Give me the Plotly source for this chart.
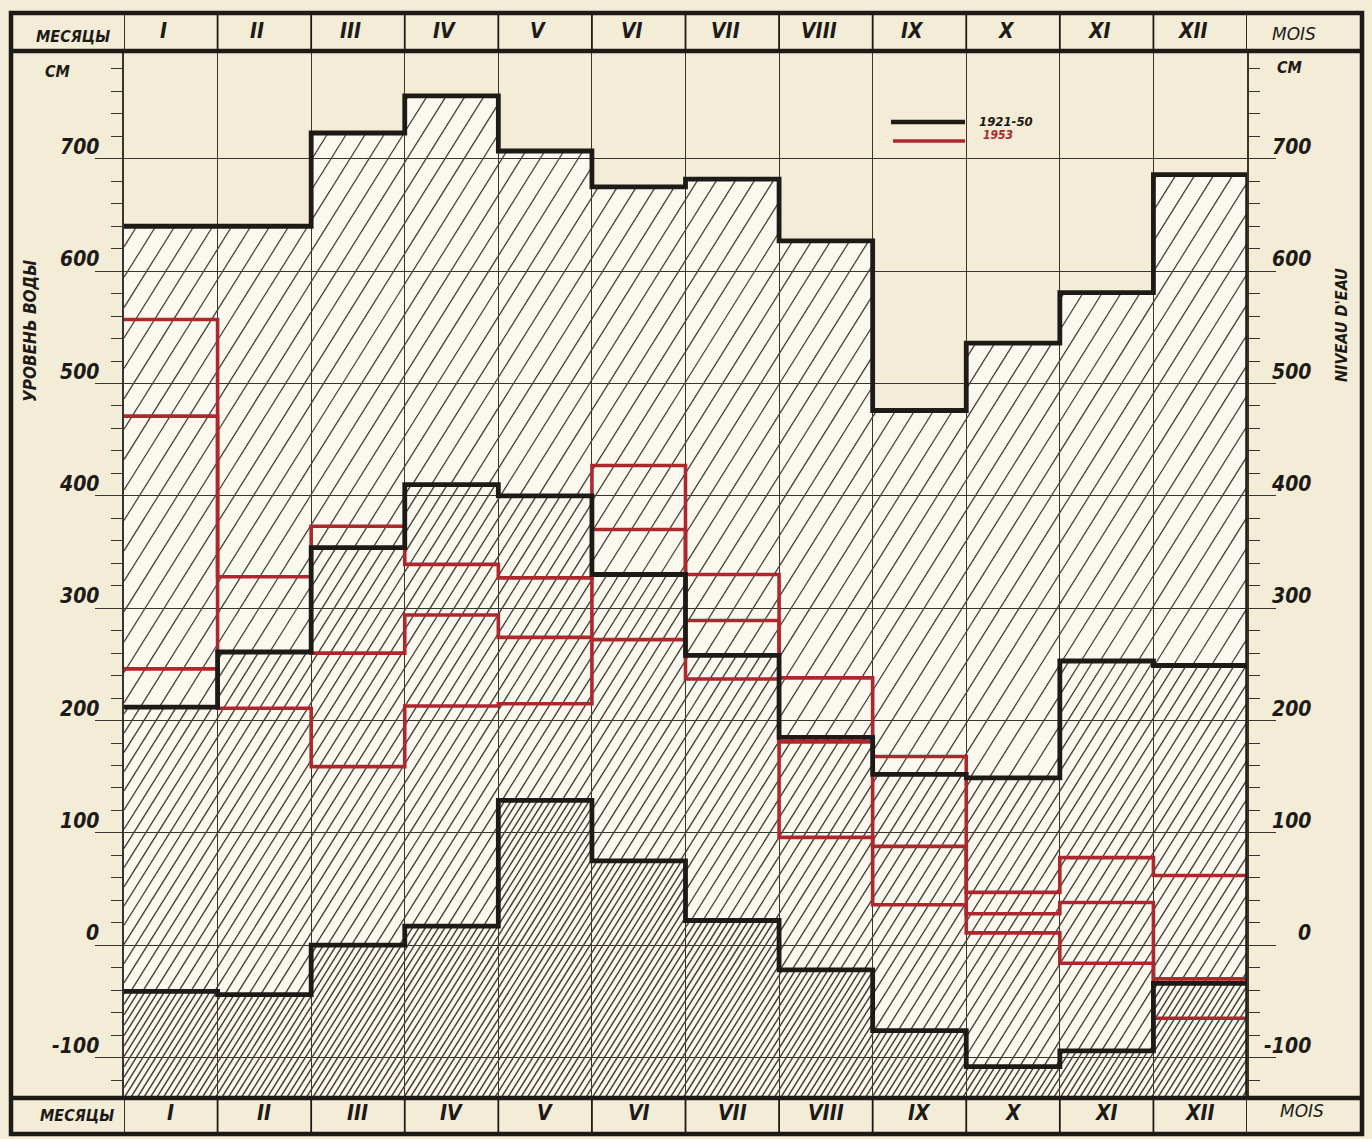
import math
import plotly.graph_objects as go

# Monthly water levels, cm
MONTHS = ["I", "II", "III", "IV", "V", "VI", "VII", "VIII", "IX", "X", "XI", "XII"]

# 1921-50: highest, mean and lowest monthly level
LEVEL_MAX_1921_50 = [640, 640, 723, 756, 707, 675, 682, 627, 476, 536, 581, 686]
LEVEL_MEAN_1921_50 = [212, 261, 354, 410, 400, 330, 258, 185, 152, 149, 253, 249]
LEVEL_MIN_1921_50 = [-41, -44, 0, 17, 129, 75, 22, -22, -76, -108, -94, -34]

# 1953: highest, mean and lowest monthly level
LEVEL_MAX_1953 = [557, 328, 373, 339, 327, 427, 330, 238, 168, 47, 78, 62]
LEVEL_MEAN_1953 = [471, 261, 260, 294, 274, 370, 289, 181, 88, 28, 38, -30]
LEVEL_MIN_1953 = [246, 211, 159, 213, 215, 272, 237, 96, 36, 11, -16, -65]

TICK_VALUES = [-100, 0, 100, 200, 300, 400, 500, 600, 700]
TICK_LABELS = [str(v) for v in TICK_VALUES]

LEGEND_LABELS = ["1921-50", "1953"]

# ---- page geometry ----
W, H = 1372, 1139
M_L, M_R, M_T, M_B = 124, 125, 51, 41
PLOT_W = W - M_L - M_R
PLOT_H = H - M_T - M_B
Y_MIN, Y_MAX = -136, 796
N = len(MONTHS)

PAPER = "#f3ecd6"
CREAM = "#fbf8ef"
INK = "#1d1a17"
GRID = "#3a342e"
HATCH = "#4a423a"
RED = "#ad282c"

FONT = "DejaVu Sans Condensed, DejaVu Sans, sans-serif"
FONT_WIDE = "DejaVu Sans, sans-serif"


def px2x(px):
    return (px - M_L) / PLOT_W


def py2y(py):
    return (H - M_B - py) / PLOT_H


def step_xy(vals):
    return list(range(len(vals) + 1)), list(vals) + [vals[-1]]


def hatch(lower, upper, spacing, slope=1.6):
    """Diagonal '/' hatch lines clipped to the monthly bands lower..upper."""
    sx = PLOT_W / N
    sy = PLOT_H / (Y_MAX - Y_MIN)
    xs, ys = [], []
    for i, (lo, hi) in enumerate(zip(lower, upper)):
        if hi <= lo:
            continue
        u0, u1 = i * sx, (i + 1) * sx
        w0, w1 = (lo - Y_MIN) * sy, (hi - Y_MIN) * sy
        k0 = math.floor((u0 - w1 / slope) / spacing) - 1
        k1 = math.ceil((u1 - w0 / slope) / spacing) + 1
        for k in range(k0, k1 + 1):
            off = k * spacing
            a = max(u0, off + w0 / slope)
            b = min(u1, off + w1 / slope)
            if b - a > 0.3:
                xs += [a / sx, b / sx, None]
                ys += [Y_MIN + slope * (a - off) / sy, Y_MIN + slope * (b - off) / sy, None]
    return xs, ys


fig = go.Figure()

bottom = [Y_MIN] * N
bands = [
    (LEVEL_MEAN_1921_50, LEVEL_MAX_1921_50, 19, 1.3),
    (LEVEL_MIN_1921_50, LEVEL_MEAN_1921_50, 12, 1.4),
    (bottom, LEVEL_MIN_1921_50, 6.5, 1.5),
]
for lo, hi, sp, lw in bands:
    hx, hy = hatch(lo, hi, sp)
    fig.add_trace(go.Scatter(x=hx, y=hy, mode="lines", hoverinfo="skip",
                             line=dict(color=HATCH, width=lw), showlegend=False))

# 1953 levels (red), drawn beneath the long-term lines
for vals in (LEVEL_MAX_1953, LEVEL_MEAN_1953, LEVEL_MIN_1953):
    sx_, sy_ = step_xy(vals)
    fig.add_trace(go.Scatter(x=sx_, y=sy_, mode="lines", line_shape="hv",
                             line=dict(color=RED, width=3.6), showlegend=False))

# 1921-50 levels (black)
for vals in (LEVEL_MAX_1921_50, LEVEL_MEAN_1921_50, LEVEL_MIN_1921_50):
    sx_, sy_ = step_xy(vals)
    fig.add_trace(go.Scatter(x=sx_, y=sy_, mode="lines", line_shape="hv",
                             line=dict(color=INK, width=4.8), showlegend=False))

# right edge of the hatched field
fig.add_trace(go.Scatter(x=[N, N], y=[LEVEL_MAX_1921_50[-1], Y_MIN], mode="lines",
                         line=dict(color=INK, width=3.5), showlegend=False))

shapes = []
# light paper under the hatched field
path = f"M 0,{Y_MIN} L 0,{LEVEL_MAX_1921_50[0]}"
for i, v in enumerate(LEVEL_MAX_1921_50):
    path += f" L {i},{v} L {i + 1},{v}"
path += f" L {N},{Y_MIN} Z"
shapes.append(dict(type="path", path=path, xref="x", yref="y", layer="below",
                   fillcolor=CREAM, line=dict(width=0)))

# frame, header rows and their column separators
top_b, bot_b = py2y(13), py2y(1134)
left_b, right_b = px2x(11), px2x(1362)
shapes.append(dict(type="rect", xref="paper", yref="paper", x0=left_b, x1=right_b,
                   y0=bot_b, y1=top_b, line=dict(color=INK, width=4.5)))
for yy in (0, 1):
    shapes.append(dict(type="line", xref="paper", yref="paper", x0=left_b, x1=right_b,
                       y0=yy, y1=yy, line=dict(color=INK, width=4.5)))
for i in range(N + 1):
    for y0, y1 in ((1, top_b), (bot_b, 0)):
        shapes.append(dict(type="line", xref="x", yref="paper", x0=i, x1=i,
                           y0=y0, y1=y1, line=dict(color=INK, width=1.8)))

# legend keys
shapes.append(dict(type="line", xref="paper", yref="paper", x0=px2x(891), x1=px2x(965),
                   y0=py2y(122), y1=py2y(122), line=dict(color=INK, width=4.5)))
shapes.append(dict(type="line", xref="paper", yref="paper", x0=px2x(893), x1=px2x(965),
                   y0=py2y(141), y1=py2y(141), line=dict(color=RED, width=3.5)))

ann = []


def text(s, x, y, size, xref="paper", yref="paper", color=INK, weight="bold",
         style="italic", xanchor="center", yanchor="middle", angle=0, xshift=0,
         yshift=0, family=FONT):
    ann.append(dict(text=s, x=x, y=y, xref=xref, yref=yref, showarrow=False,
                    xanchor=xanchor, yanchor=yanchor, textangle=angle,
                    xshift=xshift, yshift=yshift,
                    font=dict(family=family, size=size, color=color, weight=weight,
                              style=style)))


# header rows
for i, m in enumerate(MONTHS):
    text(m, i + 0.5, py2y(31), 21, xref="x", xshift=-7)
    text(m, i + 0.5, py2y(1113), 21, xref="x")
text("МЕСЯЦЫ", px2x(73), py2y(37), 16)
text("МЕСЯЦЫ", px2x(77), py2y(1115), 16)
text("MOIS", px2x(1294), py2y(34), 17, weight="normal", family=FONT_WIDE)
text("MOIS", px2x(1302), py2y(1111), 17, weight="normal", family=FONT_WIDE)

# units and axis titles
text("СМ", px2x(58), py2y(72), 16)
text("CM", px2x(1290), py2y(67), 16)
text("УРОВЕНЬ ВОДЫ", px2x(30), py2y(331), 17, angle=-90)
text("NIVEAU D'EAU", px2x(1342), py2y(325), 16, angle=-90)

# scale figures on both sides
for v, lab in zip(TICK_VALUES, TICK_LABELS):
    text(lab, px2x(101), v, 21, yref="y", xanchor="right", yshift=12)
    text(lab, px2x(1313), v, 21, yref="y", xanchor="right", yshift=12)

# legend labels
text(LEGEND_LABELS[0], px2x(977), py2y(121), 13, xanchor="left")
text(LEGEND_LABELS[1], px2x(981), py2y(135), 12, xanchor="left", color=RED)

fig.update_layout(
    width=W, height=H,
    margin=dict(l=M_L, r=M_R, t=M_T, b=M_B, pad=0),
    paper_bgcolor=PAPER, plot_bgcolor=PAPER,
    showlegend=False,
    shapes=shapes, annotations=ann,
    xaxis=dict(range=[0, N], tickmode="array", tickvals=list(range(1, N)),
               showticklabels=False, ticks="", showgrid=True, gridcolor=GRID,
               gridwidth=1.3, zeroline=False, showline=False, fixedrange=True),
    yaxis=dict(range=[Y_MIN, Y_MAX], tickmode="array", tickvals=TICK_VALUES,
               ticks="outside", ticklen=27, tickwidth=1.3, tickcolor=GRID,
               showticklabels=False, showgrid=True, gridcolor=GRID, gridwidth=1.2,
               showline=True, linecolor=GRID, linewidth=1.8, mirror="ticks",
               zeroline=False, fixedrange=True,
               minor=dict(tickmode="linear", tick0=0, dtick=20, ticks="outside",
                          ticklen=11, tickwidth=1.3, tickcolor=GRID, showgrid=False)),
)

fig.write_html("out.html")
